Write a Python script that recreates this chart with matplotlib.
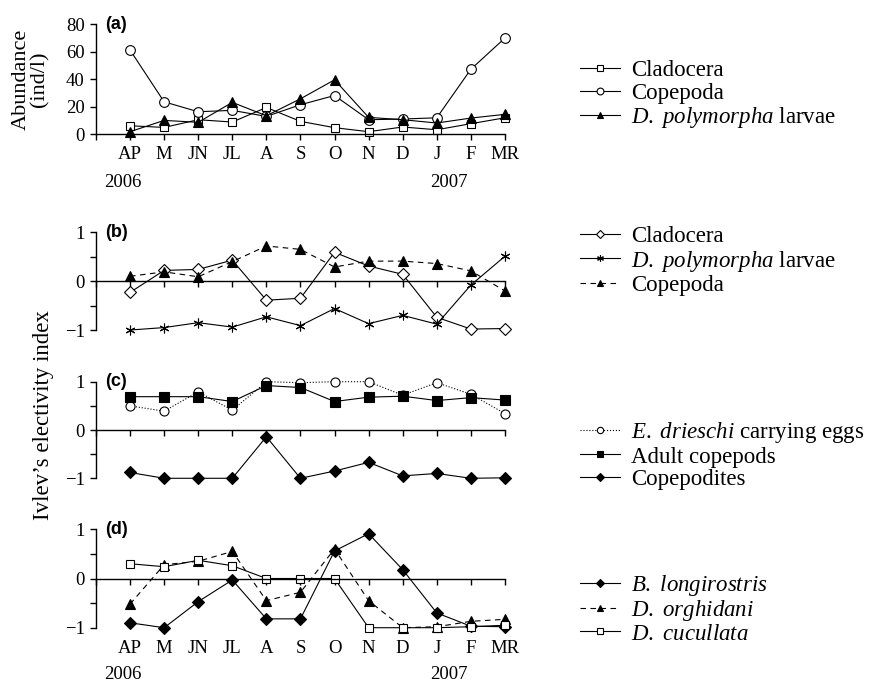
"""Zooplankton abundance and Ivlev's electivity index, 2006-2007."""

import matplotlib
matplotlib.use("Agg")
import matplotlib.pyplot as plt

plt.rcParams['font.family'] = 'Liberation Serif'
plt.rcParams['font.size'] = 13.5
plt.rcParams['mathtext.fontset'] = 'custom'
plt.rcParams['mathtext.rm'] = 'Liberation Serif'
plt.rcParams['mathtext.it'] = 'Liberation Serif:italic'
plt.rcParams['axes.linewidth'] = 1.0

months = ['AP', 'M', 'JN', 'JL', 'A', 'S', 'O', 'N', 'D', 'J', 'F', 'MR']
years = ['2006', '2007']

# (a) abundance, ind/l
abund_cladocera = [6.0, 4.8, 10.4, 8.7, 19.3, 9.2, 4.6, 1.7, 5.1, 3.1, 7.5, 11.8]
abund_copepoda = [61.1, 23.4, 16.2, 17.2, 12.8, 21.3, 28.0, 10.4, 10.9, 11.8, 47.1, 69.8]
abund_dpoly = [1.7, 9.9, 8.5, 23.0, 13.3, 25.6, 39.4, 12.1, 10.4, 8.0, 11.6, 14.3]

# (b) electivity for main prey groups
b_cladocera = [-0.23, 0.22, 0.24, 0.43, -0.39, -0.35, 0.59, 0.31, 0.14, -0.74, -0.98, -0.97]
b_dpoly = [-1.0, -0.95, -0.85, -0.94, -0.73, -0.91, -0.56, -0.87, -0.70, -0.88, -0.08, 0.51]
b_copepoda = [0.10, 0.19, 0.09, 0.40, 0.72, 0.65, 0.29, 0.41, 0.41, 0.36, 0.21, -0.20]

# (c) copepod stages
c_edrieschi = [0.50, 0.39, 0.79, 0.41, 1.0, 0.98, 1.0, 1.0, 0.72, 0.98, 0.74, 0.34]
c_adult = [0.69, 0.69, 0.69, 0.59, 0.92, 0.88, 0.59, 0.68, 0.70, 0.61, 0.67, 0.62]
c_copepodites = [-0.88, -1.0, -1.0, -1.0, -0.14, -1.0, -0.85, -0.67, -0.95, -0.90, -1.0, -0.99]

# (d) cladoceran species
d_blong = [-0.90, -1.0, -0.47, -0.03, -0.82, -0.82, 0.56, 0.91, 0.18, -0.70, -0.97, -0.98]
d_dorgh = [-0.52, 0.28, 0.35, 0.55, -0.45, -0.28, 0.60, -0.45, -1.0, -0.98, -0.87, -0.83]
d_dcuc = [0.30, 0.24, 0.37, 0.26, 0.0, 0.0, 0.0, -1.0, -1.0, -1.0, -0.98, -0.95]

x = list(range(len(months)))
LW = 0.8
DASH = (5, 4)
TICK_FS = 13.5


def setup_axis(ax, zero_axis):
    ax.set_xlim(-1, 11)
    ax.spines['top'].set_visible(False)
    ax.spines['right'].set_visible(False)
    if zero_axis:
        ax.spines['bottom'].set_position(('data', 0))
    ax.set_xticks(range(-1, 12))
    ax.set_xticklabels([])
    ax.tick_params(axis='x', direction='out', length=4.5, width=1.0)
    ax.tick_params(axis='y', which='both', direction='out', length=4.5,
                   width=1.0, pad=3.5, labelsize=TICK_FS)
    ax.set_facecolor('none')


def month_labels(ax, ybase, m_off, y_off):
    for i, m in enumerate(months):
        ax.annotate(m, xy=(x[i], ybase), xycoords='data',
                    xytext=(0, m_off), textcoords='offset points',
                    ha='center', va='center', fontsize=TICK_FS)
    for xi, yr in zip([-0.2, 9.35], years):
        ax.annotate(yr, xy=(xi, ybase), xycoords='data',
                    xytext=(0, y_off), textcoords='offset points',
                    ha='center', va='center', fontsize=TICK_FS)


def panel_label(ax, text):
    ax.text(0.022, 1.0, text, transform=ax.transAxes, ha='left', va='center',
            fontsize=13, fontweight='bold', family='Liberation Sans')


def add_legend(ax, ycen, spacing=0.08):
    ax.legend(loc='center left', bbox_to_anchor=(0.667, ycen),
              bbox_transform=ax.figure.transFigure, frameon=False,
              fontsize=16.5, handlelength=1.75, handletextpad=0.45,
              labelspacing=spacing, borderpad=0, borderaxespad=0,
              markerscale=0.7)


fig = plt.figure(figsize=(8.7, 6.82), dpi=100)

# ---- (a)
ax_a = fig.add_axes([0.1103, 0.8035, 0.4701, 0.1613])
setup_axis(ax_a, zero_axis=False)
ax_a.set_ylim(0, 80)
ax_a.set_yticks([0, 20, 40, 60, 80])
kw = dict(color='black', lw=LW, mec='black', mew=0.8, clip_on=False)
ax_a.plot(x, abund_cladocera, marker='s', ms=6, mfc='white', label='Cladocera', **kw)
ax_a.plot(x, abund_copepoda, marker='o', ms=7, mfc='white', label='Copepoda', **kw)
ax_a.plot(x, abund_dpoly, marker='^', ms=7, mfc='black',
          label=r'$D.$ $polymorpha$ larvae', **kw)
month_labels(ax_a, 0, -15, -35)
panel_label(ax_a, '(a)')
add_legend(ax_a, 1 - 95 / 682)
fig.text(31 / 870, 1 - 79 / 682, 'Abundance\n(ind/l)', rotation=90,
         ha='center', va='center', fontsize=16, linespacing=0.95)

# ---- (b), (c), (d) electivity panels
elect_axes = []
for rect in ([0.1103, 0.5161, 0.4701, 0.1433],
             [0.1103, 0.2987, 0.4701, 0.1416],
             [0.1103, 0.0796, 0.4701, 0.1443]):
    ax = fig.add_axes(rect)
    setup_axis(ax, zero_axis=True)
    ax.set_ylim(-1, 1)
    ax.set_yticks([-1, 0, 1])
    ax.set_yticklabels(['\u22121', '0', '1'])
    ax.set_yticks([-0.5, 0.5], minor=True)
    elect_axes.append(ax)
ax_b, ax_c, ax_d = elect_axes

ax_b.plot(x, b_cladocera, marker='D', ms=6, mfc='white', label='Cladocera', **kw)
ax_b.plot(x, b_dpoly, marker=(6, 2, 0), ms=7,
          label=r'$D.$ $polymorpha$ larvae', **kw)
ax_b.plot(x, b_copepoda, marker='^', ms=7, mfc='black', dashes=DASH,
          label='Copepoda', **kw)
panel_label(ax_b, '(b)')
add_legend(ax_b, 1 - 261 / 682)

ax_c.plot(x, c_edrieschi, marker='o', ms=6.5, mfc='white', ls=':',
          label=r'$E.$ $drieschi$ carrying eggs', **kw)
ax_c.plot(x, c_adult, marker='s', ms=6.5, mfc='black',
          label='Adult copepods', **kw)
ax_c.plot(x, c_copepodites, marker='D', ms=6.5, mfc='black',
          label='Copepodites', **kw)
panel_label(ax_c, '(c)')
add_legend(ax_c, 1 - 455 / 682)

ax_d.plot(x, d_blong, marker='D', ms=6.5, mfc='black',
          label=r'$B.$ $longirostris$', **kw)
ax_d.plot(x, d_dorgh, marker='^', ms=7, mfc='black', dashes=DASH,
          label=r'$D.$ $orghidani$', **kw)
ax_d.plot(x, d_dcuc, marker='s', ms=6, mfc='white',
          label=r'$D.$ $cucullata$', **kw)
panel_label(ax_d, '(d)')
add_legend(ax_d, 1 - 609 / 682, spacing=0.0)
month_labels(ax_d, -1, -15, -33.5)

fig.text(44 / 870, 1 - 415 / 682, 'Ivlev\u2019s electivity index', rotation=90,
         ha='center', va='center', fontsize=16.5)

fig.savefig('out.png', dpi=100, facecolor='white')
